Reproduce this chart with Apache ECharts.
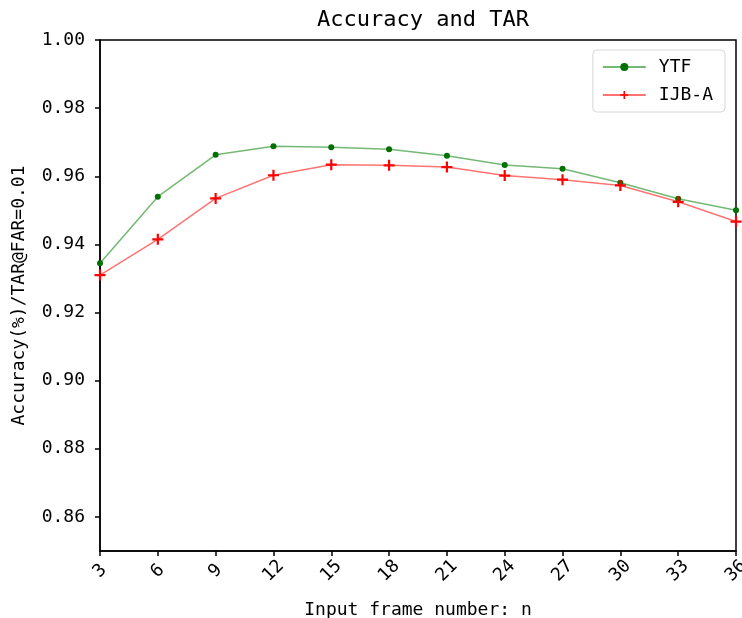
<!DOCTYPE html>
<html>
<head>
<meta charset="utf-8">
<script src="https://cdn.jsdelivr.net/npm/echarts@6/dist/echarts.min.js"></script>
<style>
  html, body { margin: 0; padding: 0; background: #fff; }
  #chart { width: 742px; height: 618px; }
</style>
</head>
<body>
<div id="chart"></div>
<script>
const frames = [3, 6, 9, 12, 15, 18, 21, 24, 27, 30, 33, 36];
const ytf = [0.9345, 0.9540, 0.9663, 0.9688, 0.9685, 0.9679, 0.9660, 0.9633, 0.9622, 0.9581, 0.9534, 0.9500];
const ijba = [0.9310, 0.9415, 0.9535, 0.9603, 0.9634, 0.9632, 0.9627, 0.9602, 0.9590, 0.9573, 0.9525, 0.9467];
const yTicks = [0.86, 0.88, 0.90, 0.92, 0.94, 0.96, 0.98, 1.00];

const font = "DejaVu Sans Mono";
const plus = "path://M4,0h2v4h4v2h-4v4h-2v-4h-4v-2h4z";

const pairs = (ys) => frames.map((x, i) => [x, ys[i]]);

const chart = echarts.init(document.getElementById("chart"));
chart.setOption({
  animation: false,
  title: {
    text: "Accuracy and TAR",
    left: 418,
    top: 4,
    textAlign: "center",
    textStyle: { fontFamily: font, fontSize: 22, fontWeight: "normal", color: "#000" },
  },
  legend: {
    right: 17,
    top: 50,
    orient: "vertical",
    itemWidth: 43,
    itemHeight: 10,
    itemGap: 10,
    padding: [8, 12, 8, 9],
    borderColor: "#d6d6d6",
    borderWidth: 1,
    borderRadius: 4,
    backgroundColor: "#fff",
    textStyle: { fontFamily: font, fontSize: 18, color: "#000", padding: [0, 0, 0, 8] },
    data: ["YTF", "IJB-A"],
  },
  grid: {
    left: 100,
    right: 6,
    top: 40,
    bottom: 67,
    outerBoundsMode: "none",
    containLabel: false,
    show: true,
    borderColor: "#000",
    borderWidth: 1.5,
  },
  xAxis: {
    type: "value",
    min: 3,
    max: 36,
    interval: 3,
    name: "Input frame number: n",
    nameLocation: "middle",
    nameGap: 50,
    nameTextStyle: { fontFamily: font, fontSize: 18, color: "#000" },
    axisLine: { lineStyle: { color: "#000", width: 1.5 } },
    axisTick: { length: 5, lineStyle: { color: "#000", width: 1.5 } },
    splitLine: { show: false },
    axisLabel: {
      rotate: 45,
      margin: 20,
      align: "center",
      verticalAlign: "middle",
      fontFamily: font,
      fontSize: 18,
      color: "#000",
    },
  },
  yAxis: {
    type: "value",
    min: 0.85,
    max: 1.0,
    interval: 0.01,
    name: "Accuracy(%)/TAR@FAR=0.01",
    nameLocation: "middle",
    nameGap: 72,
    nameTextStyle: { fontFamily: font, fontSize: 18, color: "#000" },
    axisLine: { show: true, lineStyle: { color: "#000", width: 1.5 } },
    axisTick: { show: true, length: 5, customValues: yTicks, lineStyle: { color: "#000", width: 1.5 } },
    splitLine: { show: false },
    axisLabel: {
      customValues: yTicks,
      margin: 15,
      fontFamily: font,
      fontSize: 18,
      color: "#000",
      formatter: (v) => v.toFixed(2),
    },
  },
  series: [
    {
      name: "YTF",
      type: "line",
      data: pairs(ytf),
      symbol: "circle",
      symbolSize: 6,
      lineStyle: { color: "rgba(0,128,0,0.55)", width: 1.5 },
      itemStyle: { color: "#007000" },
    },
    {
      name: "IJB-A",
      type: "line",
      data: pairs(ijba),
      symbol: plus,
      symbolSize: 11,
      lineStyle: { color: "rgba(255,0,0,0.55)", width: 1.5 },
      itemStyle: { color: "#ff0000" },
    },
  ],
});
</script>
</body>
</html>
